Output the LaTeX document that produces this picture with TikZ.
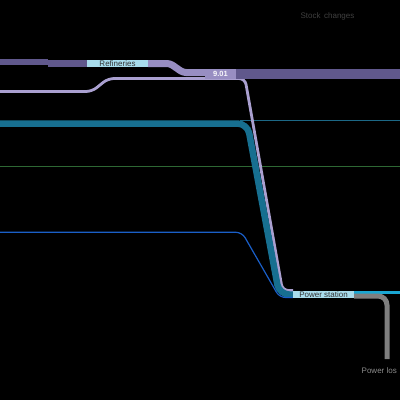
\documentclass[tikz,border=0pt]{standalone}
\usepackage{fontspec}
\setmainfont{Liberation Sans}
\usepackage{xcolor}
\usetikzlibrary{positioning, calc}

\definecolor{darkpurple}{RGB}{96,88,140}
\definecolor{lightpurple}{RGB}{152,142,194}
\definecolor{lavender}{RGB}{170,160,208}
\definecolor{boxblue}{RGB}{168,220,236}
\definecolor{tealflow}{RGB}{23,111,144}
\definecolor{tealthin}{RGB}{28,104,134}
\definecolor{greenthin}{RGB}{46,104,52}
\definecolor{bluethin}{RGB}{26,95,200}
\definecolor{cyanthin}{RGB}{26,166,210}
\definecolor{lossgray}{RGB}{127,127,127}

\pgfdeclarelayer{flows}
\pgfsetlayers{flows,main}

\tikzset{
  labelbox/.style={fill=boxblue, inner sep=0pt, minimum width=61pt, minimum height=7pt,
    text=black!80, font=\fontsize{8}{8}\selectfont},
  valbox/.style={fill=lightpurple, inner sep=0pt, minimum width=31pt, minimum height=10pt,
    text=white!92!lightpurple, font=\fontsize{7.5}{7.5}\selectfont\bfseries},
  sidetext/.style={inner sep=0pt, font=\fontsize{8}{8}\selectfont}
}

\begin{document}
\begin{tikzpicture}[x=1pt, y=-1pt]
    \begin{pgfonlayer}{flows}
        \fill[black] (0,0) rectangle (400,400);
    \end{pgfonlayer}
    \useasboundingbox (0,0) rectangle (400,400);

    % 标签
    \node[labelbox] (refin) at (117.5,63.5) {Refineries};
    \node[valbox] (val) at (220.5,74) {9.01};
    \node[labelbox] (pstat) at (323.5,294.5) {Power station};
    \node[sidetext, text=black!75] (stock) at (327.5,16.5) {Stock\, changes};
    \node[sidetext, text=black!45, anchor=west] (ploss) at (361.5,370.5) {Power los};

    \begin{pgfonlayer}{flows}
    % 细线
    \draw[tealthin, line width=1pt] (240,120.6) -- (400,120.6);
    \draw[greenthin, line width=0.9pt] (0,166) -- (400,166);

    % 紫色流
    \draw[darkpurple, line width=5.5pt] (0,62) -- (48,62);
    \draw[darkpurple, line width=6.5pt] (48,63.5) -- (refin.west);
    \draw[lavender, line width=2.8pt, rounded corners=6pt]
        (0,91.5) -- (92,91.5) -- (108,78.5) -- (245,78.5) -- (282.5,290.5) -- (293,290.5);
    \draw[lightpurple, line width=7pt, rounded corners=3pt]
        (refin.east) -- (170,63.5) -- (183,72.5) -- (val.west |- {0,72.5});
    \draw[darkpurple, line width=10pt] (val.east) -- (400,74);

    % 电站
    \draw[tealflow, line width=6.5pt, rounded corners=10pt]
        (0,123.5) -- (247.4,123.5) -- (279.2,294.5) -- (pstat.west);
    \draw[bluethin, line width=1.2pt, rounded corners=6pt]
        (0,232.3) -- (242,232.3) -- (279.5,297.5) -- (293,297.5);
    \draw[cyanthin, line width=2.5pt] (354,292.3) -- (400,292.3);
    \draw[lossgray, line width=5pt, rounded corners=9pt]
        (354,296) -- (387,296) -- (387,359);
    \end{pgfonlayer}
\end{tikzpicture}
\end{document}
